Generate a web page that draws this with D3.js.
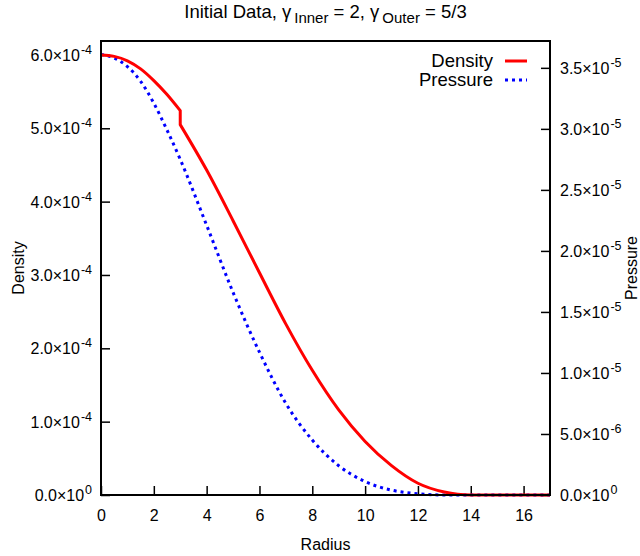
<!DOCTYPE html>
<html>
<head>
<meta charset="utf-8">
<script src="https://cdn.jsdelivr.net/npm/d3@7"></script>
<style>
  body { margin: 0; background: #fff; }
  text { font-family: "Liberation Sans", Arial, sans-serif; fill: #000; }
</style>
</head>
<body>
<div id="chart-area"></div>
<script>
// DATA
// density has a jump at r = 3 (inner / outer boundary)
const densityRadius = [0, 0.5, 1, 1.5, 2, 2.5, 3, 3, 4, 5, 6, 7, 8, 9, 10, 11, 12, 13, 13.5, 14, 15, 16, 17]
const densityValues = [6.00, 5.98, 5.92, 5.81, 5.65, 5.46, 5.24, 5.05, 4.43, 3.74, 3.03, 2.33, 1.70, 1.16, 0.73, 0.40, 0.16, 0.04, 0.01, 0, 0, 0, 0].map(v => v * 1e-4)
const pressureRadius = [0, 0.5, 1, 1.5, 2, 2.5, 3, 4, 5, 6, 7, 8, 9, 10, 11, 12, 13, 14, 15, 16, 17]
const pressureValues = [3.61, 3.58, 3.51, 3.39, 3.21, 2.99, 2.75, 2.21, 1.66, 1.17, 0.75, 0.45, 0.24, 0.11, 0.04, 0.01, 0, 0, 0, 0, 0].map(v => v * 1e-5)

const xTicks = [0, 2, 4, 6, 8, 10, 12, 14, 16]
const densityTicks = [0, 1e-4, 2e-4, 3e-4, 4e-4, 5e-4, 6e-4]
const pressureTicks = [0, 5e-6, 1e-5, 1.5e-5, 2e-5, 2.5e-5, 3e-5, 3.5e-5]

// SIZES
const W = 640, H = 556
const pLeft = 101, pRight = 550, pTop = 41, pBottom = 495

const svg = d3.select('#chart-area')
              .append('svg')
              .attr('width', W)
              .attr('height', H)

// SCALES
const x = d3.scaleLinear().domain([0, 17]).range([pLeft, pRight])
const yL = d3.scaleLinear().domain([0, 6.19e-4]).range([pBottom, pTop])
const yR = d3.scaleLinear().domain([0, 3.72e-5]).range([pBottom, pTop])

// "5.0x10^-4" style label, exponent as superscript
function sciLabel(sel, v) {
    let exp = v === 0 ? 0 : Math.floor(Math.log10(v) + 1e-9)
    let man = v === 0 ? 0 : v / Math.pow(10, exp)
    sel.text(null)
    sel.append('tspan').text(man.toFixed(1) + '\u00d710')
    sel.append('tspan').attr('dx', 1).attr('dy', -7).style('font-size', '12.5px').text(String(exp))
}

// AXES (inward ticks, like gnuplot)
const xAxis = d3.axisBottom(x).tickValues(xTicks).tickSize(-9).tickPadding(13).tickFormat(d3.format('d'))
const yAxisL = d3.axisLeft(yL).tickValues(densityTicks).tickSize(-9).tickPadding(9)
const yAxisR = d3.axisRight(yR).tickValues(pressureTicks).tickSize(-9).tickPadding(10)

const gx = svg.append('g').attr('transform', `translate(0,${pBottom})`).call(xAxis)
const gl = svg.append('g').attr('transform', `translate(${pLeft},0)`).call(yAxisL)
const gr = svg.append('g').attr('transform', `translate(${pRight},0)`).call(yAxisR)

;[gx, gl, gr].forEach(g => {
    g.select('.domain').remove()
    g.selectAll('.tick line').attr('stroke', '#000').attr('stroke-width', 1.5)
    g.selectAll('.tick text').style('font-size', '16px').attr('fill', '#000')
})
gx.selectAll('.tick text').attr('dy', '0.8em')
gl.selectAll('.tick text').each(function (d) { sciLabel(d3.select(this), d) }).attr('dy', '0.35em')
gr.selectAll('.tick text').each(function (d) { sciLabel(d3.select(this), d) }).attr('dy', '0.35em')

// CURVES
const line = d3.line().curve(d3.curveMonotoneX)
const cut = densityRadius.indexOf(3) + 1
const inner = densityRadius.slice(0, cut).map((r, i) => [x(r), yL(densityValues[i])])
const outer = densityRadius.slice(cut).map((r, i) => [x(r), yL(densityValues[i + cut])])
const densityPath = line(inner) + line(outer).replace(/^M/, 'L')
const pressurePath = line(pressureRadius.map((r, i) => [x(r), yR(pressureValues[i])]))

svg.append('path')
   .attr('d', pressurePath)
   .attr('fill', 'none')
   .attr('stroke', '#0000ff')
   .attr('stroke-width', 3)
   .attr('stroke-dasharray', '3,4')

svg.append('path')
   .attr('d', densityPath)
   .attr('fill', 'none')
   .attr('stroke', '#ff0000')
   .attr('stroke-width', 3)
   .attr('stroke-linejoin', 'miter')

// FRAME
svg.append('rect')
   .attr('x', pLeft).attr('y', pTop)
   .attr('width', pRight - pLeft).attr('height', pBottom - pTop)
   .attr('fill', 'none').attr('stroke', '#000').attr('stroke-width', 2)

// LEGEND
const legend = [
    { name: 'Density', color: '#ff0000', dash: null, y: 61 },
    { name: 'Pressure', color: '#0000ff', dash: '3,4', y: 80 }
]
legend.forEach(d => {
    svg.append('text').attr('x', 493).attr('y', d.y + 6)
       .attr('text-anchor', 'end').style('font-size', '18.5px').text(d.name)
    svg.append('line').attr('x1', 505).attr('x2', 527).attr('y1', d.y).attr('y2', d.y)
       .attr('stroke', d.color).attr('stroke-width', 3).attr('stroke-dasharray', d.dash)
})

// TITLE
const title = svg.append('text').attr('x', (pLeft + pRight) / 2).attr('y', 18)
                 .attr('text-anchor', 'middle').style('font-size', '18.5px')
title.append('tspan').text('Initial Data, \u03b3')
title.append('tspan').attr('dx', 3).attr('dy', 5).style('font-size', '15px').text('Inner')
title.append('tspan').attr('dy', -5).text(' = 2, \u03b3')
title.append('tspan').attr('dx', 3).attr('dy', 5).style('font-size', '15px').text('Outer')
title.append('tspan').attr('dy', -5).text(' = 5/3')

// AXIS LABELS
svg.append('text').attr('x', (pLeft + pRight) / 2).attr('y', 550)
   .attr('text-anchor', 'middle').style('font-size', '16px').text('Radius')
svg.append('text').attr('transform', `translate(24,${(pTop + pBottom) / 2}) rotate(-90)`)
   .attr('text-anchor', 'middle').style('font-size', '16px').text('Density')
svg.append('text').attr('transform', `translate(637,${(pTop + pBottom) / 2}) rotate(-90)`)
   .attr('text-anchor', 'middle').style('font-size', '16px').text('Pressure')
</script>
</body>
</html>
